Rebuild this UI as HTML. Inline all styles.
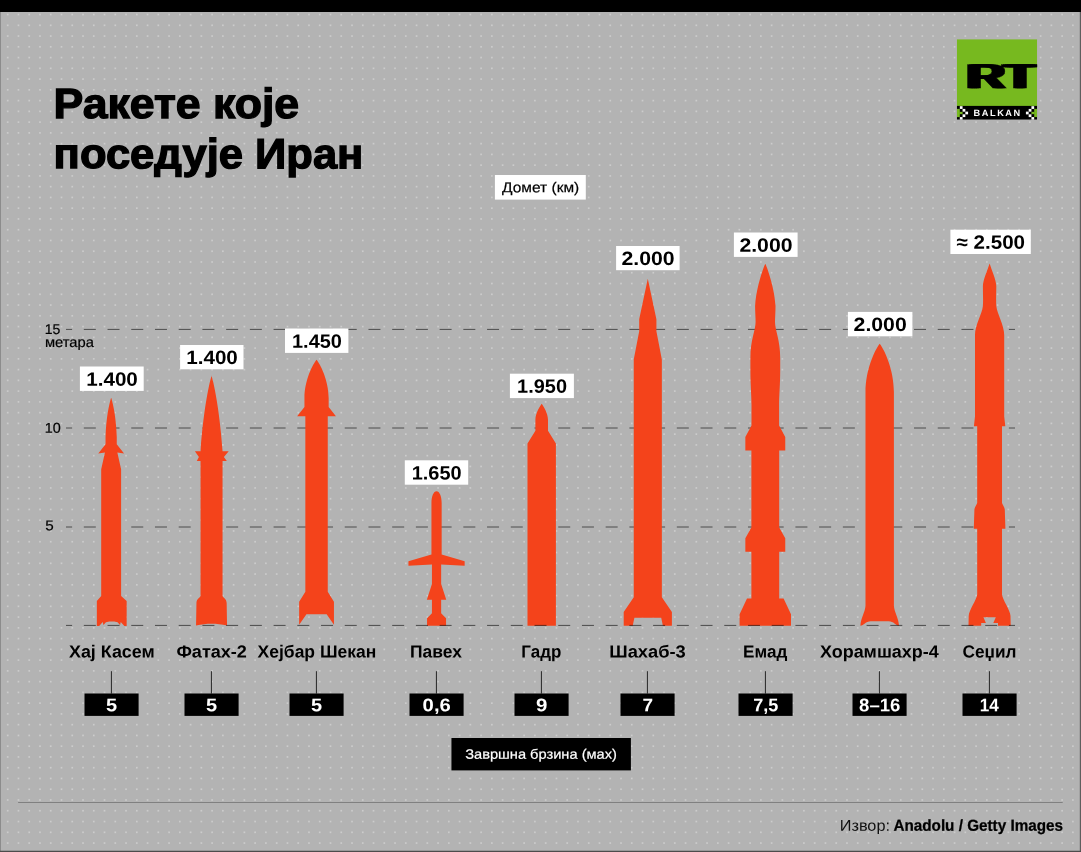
<!DOCTYPE html>
<html lang="sr"><head><meta charset="utf-8"><title>Ракете које поседује Иран</title>
<style>html,body{margin:0;padding:0;background:#b3b3b3;overflow:hidden}svg{display:block}text{font-family:'Liberation Sans', sans-serif;text-rendering:geometricPrecision}</style>
</head><body>
<svg width="1081" height="852" viewBox="0 0 1081 852">
<defs><rect id="dt" x="6.88" y="1.72" width="1.65" height="1.65" fill="#cccccc"/>
<g id="dr"><use href="#dt"/><use href="#dt" x="10.76"/><use href="#dt" x="21.52"/><use href="#dt" x="32.27"/><use href="#dt" x="43.03"/><use href="#dt" x="53.79"/><use href="#dt" x="64.55"/><use href="#dt" x="75.31"/><use href="#dt" x="86.06"/><use href="#dt" x="96.82"/><use href="#dt" x="107.58"/><use href="#dt" x="118.34"/><use href="#dt" x="129.1"/><use href="#dt" x="139.85"/><use href="#dt" x="150.61"/><use href="#dt" x="161.37"/><use href="#dt" x="172.13"/><use href="#dt" x="182.89"/><use href="#dt" x="193.64"/><use href="#dt" x="204.4"/><use href="#dt" x="215.16"/><use href="#dt" x="225.92"/><use href="#dt" x="236.68"/><use href="#dt" x="247.43"/><use href="#dt" x="258.19"/></g>
<pattern id="dots" x="0" y="12" width="269" height="269" patternUnits="userSpaceOnUse"><use href="#dr"/><use href="#dr" y="10.76"/><use href="#dr" y="21.52"/><use href="#dr" y="32.27"/><use href="#dr" y="43.03"/><use href="#dr" y="53.79"/><use href="#dr" y="64.55"/><use href="#dr" y="75.31"/><use href="#dr" y="86.06"/><use href="#dr" y="96.82"/><use href="#dr" y="107.58"/><use href="#dr" y="118.34"/><use href="#dr" y="129.1"/><use href="#dr" y="139.85"/><use href="#dr" y="150.61"/><use href="#dr" y="161.37"/><use href="#dr" y="172.13"/><use href="#dr" y="182.89"/><use href="#dr" y="193.64"/><use href="#dr" y="204.4"/><use href="#dr" y="215.16"/><use href="#dr" y="225.92"/><use href="#dr" y="236.68"/><use href="#dr" y="247.43"/><use href="#dr" y="258.19"/></pattern>
<filter id="fat" x="-20%" y="-10%" width="140%" height="120%" color-interpolation-filters="sRGB"><feOffset in="SourceGraphic" dx="-2.82" result="a"/><feOffset in="SourceGraphic" dx="-1.41" result="b"/><feOffset in="SourceGraphic" dx="1.41" result="c"/><feOffset in="SourceGraphic" dx="2.82" result="d"/><feMerge><feMergeNode in="a"/><feMergeNode in="b"/><feMergeNode in="SourceGraphic"/><feMergeNode in="c"/><feMergeNode in="d"/></feMerge></filter>
<clipPath id="lg"><rect x="956.8" y="39.2" width="80.4" height="80.5"/></clipPath></defs>
<rect width="1081" height="852" fill="#b3b3b3"/>
<rect x="1" y="12" width="1079" height="839" fill="url(#dots)"/>
<rect x="0" y="0" width="1" height="852" fill="#8c8c8c"/>
<rect x="1079.8" y="0" width="1.2" height="852" fill="#5e5e5e"/>
<rect x="0" y="850.75" width="1081" height="1.25" fill="#4c4c4c"/>
<rect x="0" y="0" width="1081" height="12" fill="#000"/>
<text x="53.54" y="118" font-size="42.2" font-weight="bold" fill="#000" stroke="#000" stroke-width="1.3" stroke-linejoin="miter" textLength="245.55" lengthAdjust="spacingAndGlyphs" transform="rotate(0.03 177.1 118)">Ракете које</text>
<text x="53.62" y="168.2" font-size="42.2" font-weight="bold" fill="#000" stroke="#000" stroke-width="1.3" stroke-linejoin="miter" textLength="309.8" lengthAdjust="spacingAndGlyphs" transform="rotate(0.03 208.5 168.2)">поседује Иран</text>
<g clip-path="url(#lg)">
<rect x="956.8" y="39.2" width="80.4" height="66.8" fill="#77b91f"/>
<rect x="956.8" y="105.9" width="80.4" height="13.8" fill="#000"/>
<text transform="translate(967.5 87.6) scale(1.5 1)" font-size="34.3" fill="#000" stroke="#000" stroke-width="0.4" stroke-linejoin="miter" letter-spacing="0.3" filter="url(#fat)">RT</text>
</g>
<g clip-path="url(#lg)"><rect x="957" y="108.9" width="2.9" height="8.2" fill="#77b91f"/><rect x="959.9" y="111.6" width="2.7" height="2.8" fill="#77b91f"/><rect x="959.9" y="108.9" width="2.7" height="2.7" fill="#000"/><rect x="959.9" y="114.4" width="2.7" height="2.7" fill="#000"/><rect x="959.83" y="106.17" width="2.75" height="2.75" fill="#fff"/><rect x="962.58" y="108.92" width="2.75" height="2.75" fill="#fff"/><rect x="965.33" y="111.62" width="2.75" height="2.75" fill="#fff"/><rect x="962.58" y="114.33" width="2.75" height="2.75" fill="#fff"/><rect x="959.83" y="117.08" width="2.75" height="2.75" fill="#fff"/><rect x="1034.1" y="108.9" width="2.9" height="8.2" fill="#77b91f"/><rect x="1031.4" y="111.6" width="2.7" height="2.8" fill="#77b91f"/><rect x="1031.4" y="108.9" width="2.7" height="2.7" fill="#000"/><rect x="1031.4" y="114.4" width="2.7" height="2.7" fill="#000"/><rect x="1031.42" y="106.17" width="2.75" height="2.75" fill="#fff"/><rect x="1028.67" y="108.92" width="2.75" height="2.75" fill="#fff"/><rect x="1025.92" y="111.62" width="2.75" height="2.75" fill="#fff"/><rect x="1028.67" y="114.33" width="2.75" height="2.75" fill="#fff"/><rect x="1031.42" y="117.08" width="2.75" height="2.75" fill="#fff"/></g>
<text x="973.6" y="116.1" transform="rotate(0.03 997 116.1)" font-size="9.2" font-weight="bold" fill="#fff" letter-spacing="1.75" textLength="48.3" lengthAdjust="spacing">BALKAN</text>
<rect x="494.9" y="175" width="90.9" height="24.6" fill="#fff"/>
<text x="502.11" y="192.2" font-size="14.3" fill="#000" stroke="#000" stroke-width="0.2" stroke-linejoin="miter" textLength="77.12" lengthAdjust="spacingAndGlyphs" transform="rotate(0.03 539.95 192.2)">Домет (км)</text>
<line x1="66" y1="329.4" x2="1015" y2="329.4" stroke="#4d4d4d" stroke-width="1" stroke-dasharray="12 11.72" stroke-dashoffset="5.9"/>
<line x1="66" y1="428" x2="1015" y2="428" stroke="#4d4d4d" stroke-width="1" stroke-dasharray="12 11.72" stroke-dashoffset="5.9"/>
<line x1="66" y1="527" x2="1015" y2="527" stroke="#4d4d4d" stroke-width="1" stroke-dasharray="12 11.72" stroke-dashoffset="5.9"/>
<text x="44.82" y="334.1" font-size="14.2" fill="#000" stroke="#000" stroke-width="0.2" stroke-linejoin="miter" textLength="15.62" lengthAdjust="spacingAndGlyphs" transform="rotate(0.03 52.85 334.1)">15</text>
<text x="44.95" y="346.9" font-size="14.4" fill="#000" stroke="#000" stroke-width="0.2" stroke-linejoin="miter" textLength="48.97" lengthAdjust="spacingAndGlyphs" transform="rotate(0.03 69.95 346.9)">метара</text>
<text x="44.88" y="432.7" font-size="14.2" fill="#000" stroke="#000" stroke-width="0.2" stroke-linejoin="miter" textLength="16" lengthAdjust="spacingAndGlyphs" transform="rotate(0.03 52.85 432.7)">10</text>
<text x="45.21" y="530.3" font-size="14.2" fill="#000" stroke="#000" stroke-width="0.2" stroke-linejoin="miter" textLength="8.46" lengthAdjust="spacingAndGlyphs" transform="rotate(0.03 49.4 530.3)">5</text>
<path d="M111.3 398C113.35 405 116.15 418 116.75 437L116.75 444.2L124.05 453.4L117.35 452.4L121.1 469.3L121.1 596.1L126.65 601L126.65 625.9L124.35 625.9L120.75 621.9L120.05 625L117.55 622.2L114.25 621.6L111.75 621.6L109.25 621.6L105.95 622.2L103.45 625L102.75 621.9L99.15 625.9L96.85 625.9L96.85 601L101.2 596.1L101.2 469.3L104.95 452.4L98.25 453.4L105.55 444.2L105.55 437C106.15 418 108.95 405 111 398Z" fill="#f4431b"/>
<path d="M211.4 375.6C214.55 385 220.05 415 222.55 451.3L228.7 451.3L223.9 457L226.8 460.9L222.55 460.9L222.55 596C223.55 598 226.55 599 226.65 603L227.05 625.6C221.55 624.2 216.55 623.8 211.55 623.8C206.55 623.8 201.55 624.2 196.05 625.6L196.45 603C196.55 599 199.55 598 200.55 596L200.55 460.9L196.8 460.9L198.9 457L194.9 451.3L200.55 451.3C203.05 415 208.55 385 211.7 375.6Z" fill="#f4431b"/>
<path d="M316.45 359.6C320.05 364 328.65 380 328.65 398L328.65 407L335.95 416.2L327.75 416.2L327.75 591.7L333.95 601.8L333.95 624.8L326.65 614.2L316.55 614.2L306.45 614.2L299.15 624.8L299.15 601.8L305.35 591.7L305.35 416.2L297.15 416.2L304.45 407L304.45 398C304.45 380 313.05 364 316.65 359.6Z" fill="#f4431b"/>
<path d="M436.55 491.2C439.45 491.2 441.65 496 441.65 503L441.65 554.5L464.65 561.3L464.65 565.7L441.15 564.5L441.15 583.9L446.25 599.7L441.15 599.7L441.15 613.3L446.05 618.2L446.05 625.8L436.55 625.8L427.05 625.8L427.05 618.2L431.95 613.3L431.95 599.7L426.85 599.7L431.95 583.9L431.95 564.5L408.45 565.7L408.45 561.3L431.45 554.5L431.45 503C431.45 496 433.65 491.2 436.55 491.2Z" fill="#f4431b"/>
<path d="M541.7 403.8C543.2 406 548 413 548 420L548 430.8L555.9 443.5L555.9 625.85L541.7 625.85L527.5 625.85L527.5 443.5L535.4 430.8L535.4 420C535.4 413 540.2 406 541.7 403.8Z" fill="#f4431b"/>
<path d="M647.8 278.8L656.4 319.2L656.4 331.2L661.85 359.4L661.85 597.3L671.9 612.1L671.9 625.8L662.9 625.8L661.2 617.7L647.8 617.7L634.4 617.7L632.7 625.8L623.7 625.8L623.7 612.1L633.75 597.3L633.75 359.4L639.2 331.2L639.2 319.2L647.8 278.8Z" fill="#f4431b"/>
<path d="M765.3 263.7C768.3 270 774.8 290 775.5 306C775.5 312 775 318 775 322C775 330 780.2 340 780.2 358L780.2 370C780.2 385 779.1 395 779.1 405L779.1 425.6L785.25 436.9L785.25 450.6L779.2 450.6L779.2 527.6L785.25 538.2L785.25 551.8L779.2 551.8L779.2 598.5L783.6 598.5L791 614.2L791 625.8L765.3 625.8L739.6 625.8L739.6 614.2L747 598.5L751.4 598.5L751.4 551.8L745.35 551.8L745.35 538.2L751.4 527.6L751.4 450.6L745.35 450.6L745.35 436.9L751.5 425.6L751.5 405C751.5 395 750.4 385 750.4 370L750.4 358C750.4 340 755.6 330 755.6 322C755.6 318 755.1 312 755.1 306C755.8 290 762.3 270 765.3 263.7Z" fill="#f4431b"/>
<path d="M879.7 343.7C884.7 350 893.9 370 893.9 392L893.9 605.8C894.2 612 898.7 618 899 625.8C895.7 625.5 893.7 621.3 888.7 621.3L879.7 621.3L870.7 621.3C865.7 621.3 863.7 625.5 860.4 625.8C860.7 618 865.2 612 865.5 605.8L865.5 392C865.5 370 874.7 350 879.7 343.7Z" fill="#f4431b"/>
<path d="M989.6 263.4C991.6 270 996.3 280 996.3 286C996.3 292 995.9 300 996.3 306C997.1 314 1004.2 325 1004.2 335L1004.2 416.5L1005.3 426.3L1002 426.3L1002 502.9C1002.6 505 1004.8 507 1004.8 510L1005.4 528.7L1002 528.7L1002 594.5C1002.6 600 1010.3 610 1010.5 616L1010.7 625.8L998 625.8L998 623.1L993.3 623.1L995.8 617.3L989.6 617.3L983.4 617.3L985.9 623.1L981.2 623.1L981.2 625.8L968.5 625.8L968.7 616C968.9 610 976.6 600 977.2 594.5L977.2 528.7L973.8 528.7L974.4 510C974.4 507 976.6 505 977.2 502.9L977.2 426.3L973.9 426.3L975 416.5L975 335C975 325 982.1 314 982.9 306C983.3 300 982.9 292 982.9 286C982.9 280 987.6 270 989.6 263.4Z" fill="#f4431b"/>
<line x1="66" y1="625.4" x2="1015" y2="625.4" stroke="#6a6a6a" stroke-width="1" stroke-dasharray="12 11.72" stroke-dashoffset="5.9" style="mix-blend-mode:multiply"/>
<rect x="79.9" y="366.5" width="63.8" height="24.4" fill="#fff"/>
<text x="86.22" y="385.65" font-size="19.3" font-weight="bold" fill="#000" textLength="51.63" lengthAdjust="spacingAndGlyphs" transform="rotate(0.03 112.2 385.65)">1.400</text>
<rect x="180.1" y="345" width="63.4" height="24.3" fill="#fff"/>
<text x="186.22" y="364.05" font-size="19.3" font-weight="bold" fill="#000" textLength="51.63" lengthAdjust="spacingAndGlyphs" transform="rotate(0.03 212.2 364.05)">1.400</text>
<rect x="285" y="328.5" width="63.4" height="24.4" fill="#fff"/>
<text x="292.04" y="347.65" font-size="19.3" font-weight="bold" fill="#000" textLength="49.87" lengthAdjust="spacingAndGlyphs" transform="rotate(0.03 317.1 347.65)">1.450</text>
<rect x="404.8" y="460.3" width="63.4" height="24.4" fill="#fff"/>
<text x="411.71" y="479.45" font-size="19.3" font-weight="bold" fill="#000" textLength="49.87" lengthAdjust="spacingAndGlyphs" transform="rotate(0.03 436.9 479.45)">1.650</text>
<rect x="509.9" y="373.7" width="64" height="24.4" fill="#fff"/>
<text x="517.13" y="392.85" font-size="19.3" font-weight="bold" fill="#000" textLength="49.87" lengthAdjust="spacingAndGlyphs" transform="rotate(0.03 542.3 392.85)">1.950</text>
<rect x="616.1" y="246" width="63.5" height="24.2" fill="#fff"/>
<text x="621.45" y="264.95" font-size="19.3" font-weight="bold" fill="#000" textLength="53.1" lengthAdjust="spacingAndGlyphs" transform="rotate(0.03 647.85 264.95)">2.000</text>
<rect x="733.9" y="232.5" width="63.7" height="24.4" fill="#fff"/>
<text x="739.41" y="251.65" font-size="19.3" font-weight="bold" fill="#000" textLength="53.1" lengthAdjust="spacingAndGlyphs" transform="rotate(0.03 765.75 251.65)">2.000</text>
<rect x="847.9" y="311.9" width="64.5" height="24.4" fill="#fff"/>
<text x="853.61" y="331.05" font-size="19.3" font-weight="bold" fill="#000" textLength="53.1" lengthAdjust="spacingAndGlyphs" transform="rotate(0.03 880.15 331.05)">2.000</text>
<rect x="950.4" y="229.7" width="80.4" height="24.3" fill="#fff"/>
<text x="956.53" y="248.75" font-size="19.3" font-weight="bold" fill="#000" textLength="68.55" lengthAdjust="spacingAndGlyphs" transform="rotate(0.03 990.6 248.75)">≈ 2.500</text>
<text x="68.98" y="657.5" font-size="17.5" font-weight="bold" fill="#000" textLength="85.78" lengthAdjust="spacingAndGlyphs" transform="rotate(0.03 111.55 657.5)">Хај Касем</text>
<rect x="110.9" y="671.2" width="1.1" height="22.4" fill="#333"/>
<rect x="84.5" y="693.5" width="54.1" height="22.4" fill="#000"/>
<text x="105.96" y="711.3" font-size="18.3" font-weight="bold" fill="#fff" textLength="11.12" lengthAdjust="spacingAndGlyphs" transform="rotate(0.03 111.75 711.3)">5</text>
<text x="176.44" y="657.5" font-size="17.5" font-weight="bold" fill="#000" textLength="70.48" lengthAdjust="spacingAndGlyphs" transform="rotate(0.03 211.55 657.5)">Фатах-2</text>
<rect x="210.9" y="671.2" width="1.1" height="22.4" fill="#333"/>
<rect x="184.5" y="693.5" width="54.1" height="22.4" fill="#000"/>
<text x="205.96" y="711.3" font-size="18.3" font-weight="bold" fill="#fff" textLength="11.12" lengthAdjust="spacingAndGlyphs" transform="rotate(0.03 211.75 711.3)">5</text>
<text x="257.6" y="657.5" font-size="17.5" font-weight="bold" fill="#000" textLength="118.66" lengthAdjust="spacingAndGlyphs" transform="rotate(0.03 316.65 657.5)">Хејбар Шекан</text>
<rect x="315.9" y="671.2" width="1.1" height="22.4" fill="#333"/>
<rect x="289.5" y="693.5" width="54.1" height="22.4" fill="#000"/>
<text x="310.96" y="711.3" font-size="18.3" font-weight="bold" fill="#fff" textLength="11.12" lengthAdjust="spacingAndGlyphs" transform="rotate(0.03 316.75 711.3)">5</text>
<text x="410.04" y="657.5" font-size="17.5" font-weight="bold" fill="#000" textLength="51.9" lengthAdjust="spacingAndGlyphs" transform="rotate(0.03 436.3 657.5)">Павех</text>
<rect x="435.9" y="671.2" width="1.1" height="22.4" fill="#333"/>
<rect x="409.5" y="693.5" width="54.1" height="22.4" fill="#000"/>
<text x="422.64" y="711.3" font-size="18.3" font-weight="bold" fill="#fff" textLength="28.15" lengthAdjust="spacingAndGlyphs" transform="rotate(0.03 436.75 711.3)">0,6</text>
<text x="521.32" y="657.5" font-size="17.5" font-weight="bold" fill="#000" textLength="39.95" lengthAdjust="spacingAndGlyphs" transform="rotate(0.03 541.55 657.5)">Гадр</text>
<rect x="540.9" y="671.2" width="1.1" height="22.4" fill="#333"/>
<rect x="514.5" y="693.5" width="54.1" height="22.4" fill="#000"/>
<text x="536.04" y="711.3" font-size="18.3" font-weight="bold" fill="#fff" textLength="11.38" lengthAdjust="spacingAndGlyphs" transform="rotate(0.03 541.75 711.3)">9</text>
<text x="609.29" y="657.5" font-size="17.5" font-weight="bold" fill="#000" textLength="76.48" lengthAdjust="spacingAndGlyphs" transform="rotate(0.03 647.8 657.5)">Шахаб-3</text>
<rect x="646.9" y="671.2" width="1.1" height="22.4" fill="#333"/>
<rect x="620.5" y="693.5" width="54.1" height="22.4" fill="#000"/>
<text x="642.43" y="711.3" font-size="18.3" font-weight="bold" fill="#fff" textLength="10.58" lengthAdjust="spacingAndGlyphs" transform="rotate(0.03 647.75 711.3)">7</text>
<text x="743.11" y="657.5" font-size="17.5" font-weight="bold" fill="#000" textLength="44.25" lengthAdjust="spacingAndGlyphs" transform="rotate(0.03 765.55 657.5)">Емад</text>
<rect x="764.9" y="671.2" width="1.1" height="22.4" fill="#333"/>
<rect x="738.5" y="693.5" width="54.1" height="22.4" fill="#000"/>
<text x="753.14" y="711.3" font-size="18.3" font-weight="bold" fill="#fff" textLength="25.09" lengthAdjust="spacingAndGlyphs" transform="rotate(0.03 765.75 711.3)">7,5</text>
<text x="819.97" y="657.5" font-size="17.5" font-weight="bold" fill="#000" textLength="118.76" lengthAdjust="spacingAndGlyphs" transform="rotate(0.03 879.55 657.5)">Хорамшахр-4</text>
<rect x="878.9" y="671.2" width="1.1" height="22.4" fill="#333"/>
<rect x="852.5" y="693.5" width="54.1" height="22.4" fill="#000"/>
<text x="859.13" y="711.3" font-size="18.3" font-weight="bold" fill="#fff" textLength="41.27" lengthAdjust="spacingAndGlyphs" transform="rotate(0.03 879.75 711.3)">8–16</text>
<text x="962.49" y="657.5" font-size="17.5" font-weight="bold" fill="#000" textLength="53.96" lengthAdjust="spacingAndGlyphs" transform="rotate(0.03 989.15 657.5)">Сеџил</text>
<rect x="988.9" y="671.2" width="1.1" height="22.4" fill="#333"/>
<rect x="962.5" y="693.5" width="54.1" height="22.4" fill="#000"/>
<text x="979.8" y="711.3" font-size="18.3" font-weight="bold" fill="#fff" textLength="19.03" lengthAdjust="spacingAndGlyphs" transform="rotate(0.03 989.75 711.3)">14</text>
<rect x="451.45" y="738" width="179.45" height="32.4" fill="#000"/>
<text x="465.15" y="758.8" font-size="13.7" fill="#fff" stroke="#fff" stroke-width="0.2" stroke-linejoin="miter" textLength="151.84" lengthAdjust="spacingAndGlyphs" transform="rotate(0.03 540.95 758.8)">Завршна брзина (мах)</text>
<rect x="18.1" y="802" width="1044.6" height="1" fill="#808080"/>
<text x="839.75" y="830.7" font-size="15.5" fill="#111" textLength="50.21" lengthAdjust="spacingAndGlyphs" transform="rotate(0.03 864.7 830.7)">Извор:</text>
<text x="893.43" y="830.8" font-size="15.9" font-weight="bold" fill="#000" stroke="#000" stroke-width="0.25" stroke-linejoin="miter" textLength="169.56" lengthAdjust="spacingAndGlyphs" transform="rotate(0.03 978.2 830.8)">Anadolu / Getty Images</text>
</svg>
</body></html>
